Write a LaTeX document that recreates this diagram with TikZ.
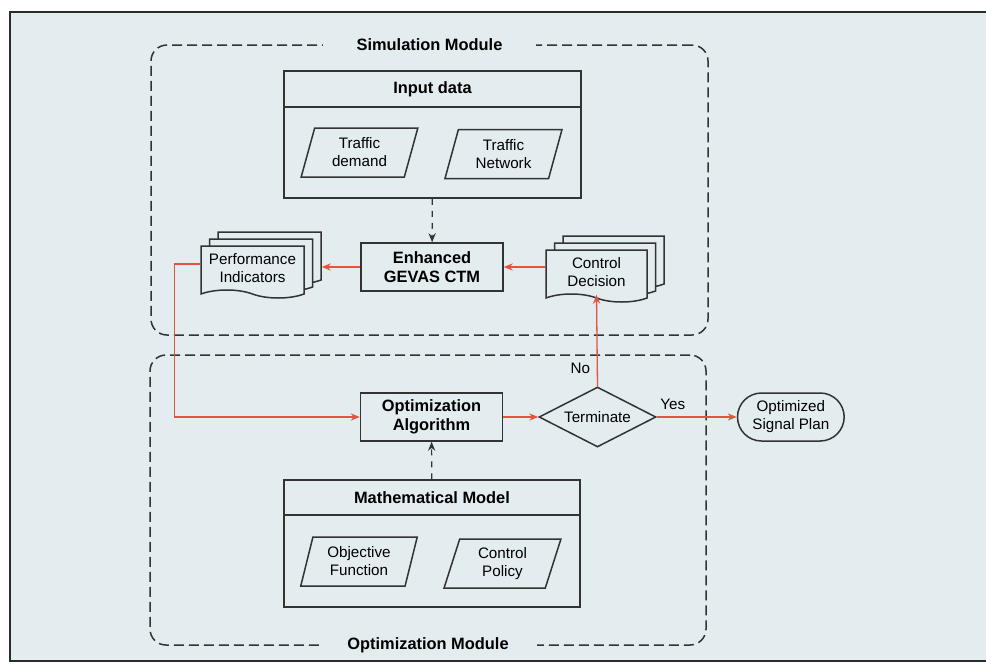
\documentclass[tikz,border=0pt]{standalone}
\usepackage{fontspec}
\setmainfont{Liberation Sans}
\usepackage{tikz}
\usetikzlibrary{shapes.geometric, shapes.symbols, shapes.misc, arrows.meta, positioning, shadows}
\definecolor{paper}{HTML}{E3ECEF}
\definecolor{frameline}{HTML}{2B2B2B}
\definecolor{linegray}{HTML}{333333}
\definecolor{flowred}{HTML}{E2543F}
\newcommand{\txt}{\fontsize{7.6}{9}\selectfont}
\newcommand{\btxt}{\fontsize{8.2}{9.6}\selectfont\bfseries}

\begin{document}
\begin{tikzpicture}[x=0.5pt, y=-0.5pt, >={Stealth[length=4.5pt, width=3.6pt]},
    box/.style={draw=linegray, line width=0.75pt, fill=paper, align=center, inner sep=0pt},
    proc/.style={box, font=\btxt, minimum width=71pt, minimum height=24pt},
    data/.style={trapezium, trapezium left angle=75, trapezium right angle=105, trapezium stretches=true, draw=linegray, line width=0.75pt, fill=paper, align=center, font=\txt, inner sep=1pt, minimum width=58.5pt, minimum height=24.5pt},
    doc/.style={tape, tape bend top=none, tape bend bottom=out and in, tape bend height=4pt, draw=linegray, line width=0.75pt, fill=paper, align=center, font=\txt, inner sep=1pt, minimum width=51.5pt, minimum height=26pt},
    stack/.style={copy shadow={shadow xshift=8.5pt, shadow yshift=7pt, fill=paper, draw=linegray, line width=0.75pt}, copy shadow={shadow xshift=4.25pt, shadow yshift=3.5pt, fill=paper, draw=linegray, line width=0.75pt}},
    decision/.style={diamond, draw=linegray, line width=0.75pt, fill=paper, font=\txt, inner sep=0pt, minimum width=58.5pt, minimum height=30pt, aspect=2},
    terminal/.style={rounded rectangle, draw=linegray, line width=0.75pt, fill=paper, align=center, font=\txt, minimum width=60pt, minimum height=24pt},
    module/.style={draw=linegray, dash pattern=on 5pt off 2.5pt, line width=0.75pt, rounded corners=8pt, inner sep=0pt},
    modtitle/.style={fill=paper, font=\btxt, inner ysep=1pt},
    flow/.style={->, draw=flowred, line width=0.65pt},
    link/.style={->, draw=linegray, dashed, line width=0.6pt}]
    \useasboundingbox (0,0) rectangle (986,665);
    % Frame
    \fill[paper] (10,12) rectangle (990,661);
    \draw[frameline, line width=1.2pt] (990,12) -- (10,12) -- (10,661) -- (990,661);

    % Modules
    \node[module, minimum width=278.5pt, minimum height=145pt] (simmod) at (429.5,190) {};
    \node[modtitle, inner xsep=17pt] at (simmod.north) {Simulation Module};
    \node[module, minimum width=278pt, minimum height=145pt] (optmod) at (428,500) {};
    \node[modtitle, inner xsep=14pt] at (optmod.south) {Optimization Module};

    % Simulation nodes
    \node[box, minimum width=148.5pt, minimum height=63.5pt] (input) at (432.5,134.5) {};
    \node[box, minimum width=148.5pt, minimum height=18pt, anchor=north, font=\btxt] (inhead) at (input.north) {Input data};
    \node[data] (demand) at (359.5,152.5) {Traffic\\demand};
    \node[data] (network) at (503.5,154) {Traffic\\Network};
    \node[proc] (ctm) at (432,267) {Enhanced\\GEVAS CTM};
    \node[doc, stack] (perf) at (252.5,268) {Performance\\Indicators};
    \node[doc, stack, minimum width=50.5pt] (ctrl) at (596.5,272) {Control\\Decision};

    % Optimization nodes
    \node[proc] (alg) at (431.5,417) {Optimization\\Algorithm};
    \node[decision, right=17.5pt of alg] (term) {Terminate};
    \node[terminal, right=40pt of term] (plan) {Optimized\\Signal Plan};
    \node[box, minimum width=148pt, minimum height=63.5pt] (math) at (432,543.5) {};
    \node[box, minimum width=148pt, minimum height=17.5pt, anchor=north, font=\btxt] (mathead) at (math.north) {Mathematical Model};
    \node[data] (objf) at (359,561.5) {Objective\\Function};
    \node[data] (policy) at (502.5,563.5) {Control\\Policy};

    % Connectors
    \draw[link] (input) -- (ctm);
    \draw[link] (math) -- (alg);
    \draw[flow] (ctm.east -| ctrl.west) -- (ctm.east);
    \draw[flow] (ctm.west) -- ([xshift=8.5pt]perf.east |- ctm.west);
    \draw[flow] ([yshift=2pt]perf.west) -- ++(-26,0) |- (alg.west);
    \draw[flow] (alg) -- (term);
    \draw[flow] (term) -- node[above, pos=0.2, font=\txt] {Yes} (plan);
    \draw[flow] (term.north) -- node[left, pos=0.2, font=\txt] {No} (ctrl.south);
\end{tikzpicture}
\end{document}
